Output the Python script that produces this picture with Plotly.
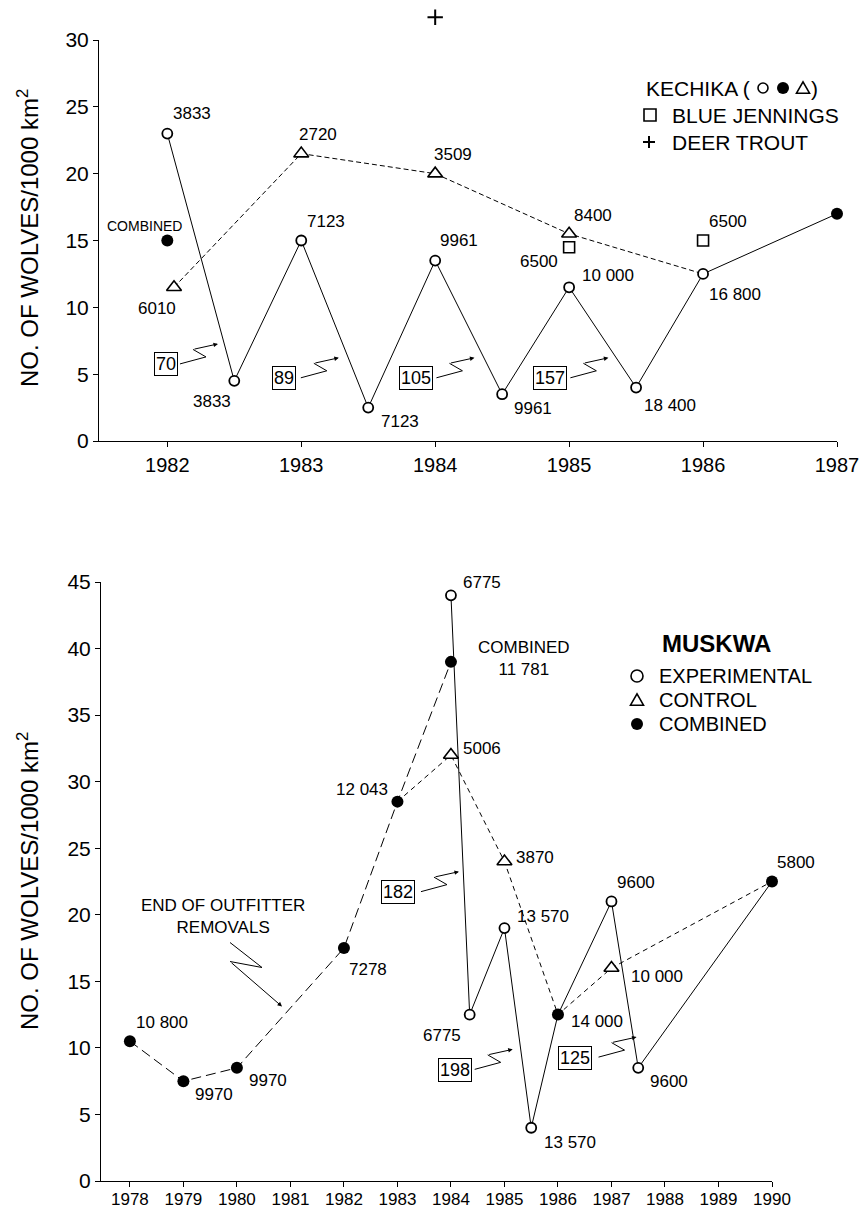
import plotly.graph_objects as go

# ---------------- Upper panel: Kechika, Blue Jennings, Deer Trout ----------------
kech_exp_year = [1982, 1982.5, 1983, 1983.5, 1984, 1984.5, 1985, 1985.5, 1986]
kech_exp_density = [23, 4.5, 15, 2.5, 13.5, 3.5, 11.5, 4, 12.5]
kech_exp_area = ["3833", "3833", "7123", "7123", "9961", "9961", "10 000", "18 400", "16 800"]

kech_ctrl_year = [1982.05, 1983, 1984, 1985]
kech_ctrl_density = [11.5, 21.5, 20, 15.5]
kech_ctrl_area = ["6010", "2720", "3509", "8400"]

kech_comb_year = [1982, 1987]
kech_comb_density = [15, 17]

blue_year = [1985, 1986]
blue_density = [14.5, 15]
blue_area = ["6500", "6500"]

deer_year = [1984]
deer_density = [31.7]

kech_removed = ["70", "89", "105", "157"]
kech_ticks = [1982, 1983, 1984, 1985, 1986, 1987]

# ---------------- Lower panel: Muskwa ----------------
musk_comb_year = [1978, 1979, 1980, 1982, 1983, 1984, 1986, 1990]
musk_comb_density = [10.5, 7.5, 8.5, 17.5, 28.5, 39, 12.5, 22.5]
musk_comb_area = ["10 800", "9970", "9970", "7278", "12 043", "11 781", "14 000", "5800"]

musk_exp_year = [1984, 1984.35, 1985, 1985.5, 1987, 1987.5]
musk_exp_density = [44, 12.5, 19, 4, 21, 8.5]
musk_exp_area = ["6775", "6775", "13 570", "13 570", "9600", "9600"]

musk_ctrl_year = [1984, 1985, 1987]
musk_ctrl_density = [32, 24, 16]
musk_ctrl_area = ["5006", "3870", "10 000"]

musk_removed = ["182", "198", "125"]
musk_ticks = list(range(1978, 1991))

# ---------------- label placement (pixel offsets from each point) ----------------
kech_exp_shift = [(25, 20), (-22, -21), (25, 19), (32, -14), (24, 20), (31, -14), (39, 12), (34, -18), (32, -21)]
kech_ctrl_shift = [(-17, -21), (17, 19), (18, 19), (24, 18)]
blue_shift = [(-30, -14), (25, 19)]
musk_comb_shift = [(32, 19), (31, -13), (31, -13), (24, -21), (-35, 12), (73, 3), (39, -7), (24, 19)]
musk_exp_shift = [(31, 13), (-28, -21), (39, 12), (39, -15), (25, 19), (31, -14)]
musk_ctrl_shift = [(31, 7), (31, 4), (46, -8)]

# boxed removal counts: (x, y, start offset of the zigzag pointer)
kech_box_pos = [(1981.99, 5.73, 14), (1982.87, 4.69, 17), (1983.86, 4.69, 20), (1984.86, 4.69, 20)]
musk_box_pos = [(1983.01, 21.7, 23), (1984.07, 8.35, 20), (1986.31, 9.27, 24)]

FONT = "Liberation Sans, Arial, Helvetica, sans-serif"
W, H = 863, 1211

# pixel geometry of the two panels
TOP_Y0, TOP_Y1 = 40, 441      # y=30 .. y=0
BOT_Y0, BOT_Y1 = 582, 1181    # y=45 .. y=0
TOP_MAX = 30

fig = go.Figure()
shapes = []
annotations = []


def line_trace(x, y, dash, xa, ya, width=1):
    fig.add_trace(go.Scatter(x=x, y=y, mode="lines", xaxis=xa, yaxis=ya,
                             line=dict(color="black", width=width, dash=dash),
                             hoverinfo="skip", showlegend=False, cliponaxis=False))


def marker_trace(x, y, symbol, size, fill, lw, xa, ya):
    fig.add_trace(go.Scatter(x=x, y=y, mode="markers", xaxis=xa, yaxis=ya,
                             marker=dict(symbol=symbol, size=size, color=fill,
                                         line=dict(color="black", width=lw)),
                             showlegend=False, cliponaxis=False))


def point_labels(xs, ys, texts, shifts, xref, yref, size=17):
    for x, y, t, (dx, dy) in zip(xs, ys, texts, shifts):
        annotations.append(dict(x=x, y=y, xref=xref, yref=yref, text=t, showarrow=False,
                                xanchor="center", yanchor="middle",
                                xshift=dx, yshift=dy, font=dict(size=size, color="black", family=FONT)))


def zigzag(xref, yref, x, y, sx, sy=0.5, p1=(26, 7), p2=(13, 14.5), tip=(38, 20)):
    path = (f"M{sx},{sy} L{sx + p1[0]},{sy + p1[1]} L{sx + p2[0]},{sy + p2[1]}")
    shapes.append(dict(type="path", xref=xref, yref=yref, xsizemode="pixel", ysizemode="pixel",
                       xanchor=x, yanchor=y, path=path, line=dict(color="black", width=1)))
    annotations.append(dict(x=x, y=y, xref=xref, yref=yref, text="", showarrow=True,
                            xshift=sx + tip[0], yshift=sy + tip[1],
                            axref="pixel", ayref="pixel",
                            ax=p2[0] - tip[0], ay=tip[1] - p2[1],
                            arrowhead=2, arrowsize=0.9, arrowwidth=1, arrowcolor="black", standoff=0))


# ---------------- upper panel ----------------
line_trace(kech_exp_year + [kech_comb_year[-1]], kech_exp_density + [kech_comb_density[-1]], "solid", "x", "y")
line_trace(kech_ctrl_year + [kech_exp_year[-1]], kech_ctrl_density + [kech_exp_density[-1]], "5px,3px", "x", "y")
marker_trace(kech_exp_year, kech_exp_density, "circle", 10, "white", 1.8, "x", "y")
marker_trace(kech_ctrl_year, kech_ctrl_density, "triangle-up", 13, "white", 1.6, "x", "y")
marker_trace(kech_comb_year, kech_comb_density, "circle", 12, "black", 0, "x", "y")
marker_trace(blue_year, blue_density, "square", 11, "white", 1.6, "x", "y")
# Deer Trout sits above the top of the drawn axis: a hidden axis with the same scale
# reaches up to the page top so the point is not dropped
marker_trace(deer_year, deer_density, "cross-thin", 11, "black", 2, "x", "y3")

point_labels(kech_exp_year, kech_exp_density, kech_exp_area, kech_exp_shift, "x", "y")
point_labels(kech_ctrl_year, kech_ctrl_density, kech_ctrl_area, kech_ctrl_shift, "x", "y")
point_labels(blue_year, blue_density, blue_area, blue_shift, "x", "y")
point_labels(kech_comb_year[:1], kech_comb_density[:1], ["COMBINED"], [(-23, 15)], "x", "y", size=14)

for txt, (bx, by, sx) in zip(kech_removed, kech_box_pos):
    annotations.append(dict(x=bx, y=by, xref="x", yref="y", text=txt, showarrow=False,
                            xanchor="center", yanchor="middle",
                            font=dict(size=18, color="black", family=FONT),
                            bordercolor="black", borderwidth=1, borderpad=1, bgcolor="white"))
    zigzag("x", "y", bx, by, sx)

# ---------------- lower panel ----------------
pre = [i for i, yr in enumerate(musk_comb_year) if yr <= 1984]
line_trace([musk_comb_year[i] for i in pre], [musk_comb_density[i] for i in pre], "10px,5px", "x2", "y2")

exp_pts = sorted(list(zip(musk_exp_year, musk_exp_density)) +
                 [(yr, d) for yr, d in zip(musk_comb_year, musk_comb_density) if yr in (1986, 1990)])
line_trace([p[0] for p in exp_pts], [p[1] for p in exp_pts], "solid", "x2", "y2")

ctrl_pts = sorted(list(zip(musk_ctrl_year, musk_ctrl_density)) +
                  [(yr, d) for yr, d in zip(musk_comb_year, musk_comb_density) if yr in (1983, 1986, 1990)])
line_trace([p[0] for p in ctrl_pts], [p[1] for p in ctrl_pts], "5px,4px", "x2", "y2")

marker_trace(musk_exp_year, musk_exp_density, "circle", 10, "white", 1.8, "x2", "y2")
marker_trace(musk_ctrl_year, musk_ctrl_density, "triangle-up", 13, "white", 1.6, "x2", "y2")
marker_trace(musk_comb_year, musk_comb_density, "circle", 12, "black", 0, "x2", "y2")

comb_texts = [("COMBINED<br>" + a) if yr == 1984 else a for yr, a in zip(musk_comb_year, musk_comb_area)]
point_labels(musk_comb_year, musk_comb_density, comb_texts, musk_comb_shift, "x2", "y2")
point_labels(musk_exp_year, musk_exp_density, musk_exp_area, musk_exp_shift, "x2", "y2")
point_labels(musk_ctrl_year, musk_ctrl_density, musk_ctrl_area, musk_ctrl_shift, "x2", "y2")

for txt, (bx, by, sx) in zip(musk_removed, musk_box_pos):
    annotations.append(dict(x=bx, y=by, xref="x2", yref="y2", text=txt, showarrow=False,
                            xanchor="center", yanchor="middle",
                            font=dict(size=18, color="black", family=FONT),
                            bordercolor="black", borderwidth=1, borderpad=1, bgcolor="white"))
    zigzag("x2", "y2", bx, by, sx)

# note on the end of outfitter removals with its pointer
annotations.append(dict(x=1979.74, y=19.87, xref="x2", yref="y2", text="END OF OUTFITTER<br>REMOVALS",
                        xanchor="center", yanchor="middle",
                        showarrow=False, font=dict(size=17, color="black", family=FONT)))
zigzag("x2", "y2", 1979.74, 19.87, 7, -26, p1=(32, -25), p2=(0, -19), tip=(52, -64))


# ---------------- legends ----------------
def px(xp):
    return xp / W


def py(yp):
    return 1 - yp / H


def paper_text(text, xp, yp, size, xanchor="left", **kw):
    annotations.append(dict(x=px(xp), y=py(yp), xref="paper", yref="paper", text=text,
                            xanchor=xanchor, yanchor="middle", showarrow=False,
                            font=dict(size=size, color="black", family=FONT), **kw))


paper_text("KECHIKA (", 644, 88, 21)
paper_text(")", 809, 88, 21)
paper_text("BLUE JENNINGS", 670, 115, 21)
paper_text("DEER TROUT", 670, 142, 21)


def sym(kind, xp, yp, r):
    base = dict(xref="paper", yref="paper", xsizemode="pixel", ysizemode="pixel",
                xanchor=px(xp), yanchor=py(yp), line=dict(color="black", width=1.6))
    if kind == "circle":
        shapes.append(dict(type="circle", x0=-r, x1=r, y0=-r, y1=r, fillcolor="white", **base))
    elif kind == "dot":
        base["line"] = dict(color="black", width=0)
        shapes.append(dict(type="circle", x0=-r, x1=r, y0=-r, y1=r, fillcolor="black", **base))
    elif kind == "square":
        shapes.append(dict(type="rect", x0=-r, x1=r, y0=-r, y1=r, fillcolor="white", **base))
    elif kind == "triangle":
        shapes.append(dict(type="path", path=f"M{-r},{-r * 0.8} L{r},{-r * 0.8} L0,{r * 0.95} Z",
                           fillcolor="white", **base))
    elif kind == "plus":
        base["line"] = dict(color="black", width=2)
        shapes.append(dict(type="path", path=f"M{-r},0 L{r},0 M0,{-r} L0,{r}", **base))


sym("circle", 763, 88, 5)
sym("dot", 783, 88, 6)
sym("triangle", 803, 88, 6.5)
sym("square", 650, 115, 6)
sym("plus", 649, 142, 6)

paper_text("<b>MUSKWA</b>", 716, 643, 24, xanchor="center")
for label, kind, yp in [("EXPERIMENTAL", "circle", 676), ("CONTROL", "triangle", 700), ("COMBINED", "dot", 724)]:
    paper_text(label, 657, yp, 20)
    sym(kind, 637, yp, 6 if kind != "triangle" else 6.5)

# axis titles
for yc in (238, 881):
    paper_text("NO. OF WOLVES/1000 km<sup>2</sup>", 28, yc, 24, xanchor="center", textangle=-90)

axis_common = dict(showgrid=False, zeroline=False, showline=True, linecolor="black", linewidth=1,
                   ticks="outside", ticklen=5, tickwidth=1, tickcolor="black", mirror=False,
                   automargin=False)

# hidden axis sharing the upper panel's scale, stretched up to the page top
top_px_per_unit = (TOP_Y1 - TOP_Y0) / TOP_MAX
y3_max = TOP_Y1 / top_px_per_unit

fig.update_layout(
    template="none",
    width=W, height=H, margin=dict(l=0, r=0, t=0, b=0, pad=0, autoexpand=False),
    paper_bgcolor="white", plot_bgcolor="rgba(0,0,0,0)", showlegend=False,
    font=dict(family=FONT, color="black"),
    xaxis=dict(domain=[99 / W, 837 / W], range=[1981.49, 1987], anchor="y", tickvals=kech_ticks,
               tickfont=dict(size=20), ticklabelstandoff=1, **axis_common),
    yaxis=dict(domain=[1 - TOP_Y1 / H, 1 - TOP_Y0 / H], range=[0, TOP_MAX], anchor="x", dtick=5,
               tickfont=dict(size=21), **axis_common),
    yaxis3=dict(domain=[1 - TOP_Y1 / H, 1], range=[0, y3_max], anchor="x", visible=False,
                showgrid=False, zeroline=False),
    xaxis2=dict(domain=[101 / W, 772 / W], range=[1977.46, 1990], anchor="y2", tickvals=musk_ticks,
                tickfont=dict(size=17), ticklabelstandoff=-2, **axis_common),
    yaxis2=dict(domain=[1 - BOT_Y1 / H, 1 - BOT_Y0 / H], range=[0, 45], anchor="x2", dtick=5,
                tickfont=dict(size=21), **axis_common),
    shapes=shapes, annotations=annotations,
)

fig.write_html("out.html")
